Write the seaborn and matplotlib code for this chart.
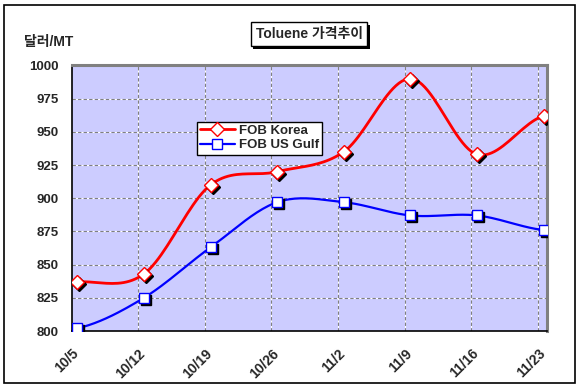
import numpy as np
import pandas as pd
import matplotlib
matplotlib.use("Agg")
import matplotlib.pyplot as plt
import matplotlib.transforms as mtransforms
import matplotlib.patheffects as pe
from matplotlib.lines import Line2D
from matplotlib.patches import Rectangle
import seaborn as sns

# Data
dates = ["10/5", "10/12", "10/19", "10/26", "11/2", "11/9", "11/16", "11/23"]
fob_korea = [837, 843, 910, 920, 935, 990, 933, 962]
fob_usgulf = [802, 825, 863, 897, 897, 887, 887, 876]

sns.set_style("white")
plt.rcParams['font.family'] = ['Liberation Sans', 'Noto Sans CJK KR']
plt.rcParams['font.weight'] = 'bold'

day = (pd.to_datetime(dates, format="%m/%d") - pd.to_datetime(dates[0], format="%m/%d")).days.to_numpy()
shift = 0.6  # markers sit a bit right of the tick in the original


def smooth(x, y, n=24):
    # excel-like smoothed line (cubic hermite / catmull-rom)
    y = np.asarray(y, float)
    ext = np.concatenate([[y[0]], y, [y[-1]]])
    xs, ys = [], []
    for i in range(len(y) - 1):
        m0 = (ext[i + 2] - ext[i]) / 2
        m1 = (ext[i + 3] - ext[i + 1]) / 2
        t = np.linspace(0, 1, n)
        h00 = 2 * t**3 - 3 * t**2 + 1
        h10 = t**3 - 2 * t**2 + t
        h01 = -2 * t**3 + 3 * t**2
        h11 = t**3 - t**2
        xs.append(x[i] + t * (x[i + 1] - x[i]))
        ys.append(h00 * y[i] + h10 * m0 + h01 * y[i + 1] + h11 * m1)
    return np.concatenate(xs), np.concatenate(ys)


fig = plt.figure(figsize=(5.82, 3.88), dpi=100)
ax = fig.add_axes([71.6 / 582, 1 - 331 / 388, (546.6 - 71.6) / 582, (331 - 65.4) / 388])
ax.set_facecolor('#CCCCFF')

xs = day + shift
series = [(fob_korea, 'FOB Korea', '#FF0000', 'D', 7, 2.0),
          (fob_usgulf, 'FOB US Gulf', '#0000FF', 's', 6.5, 1.6)]

shadow = mtransforms.offset_copy(ax.transData, fig=fig, x=2, y=-2, units='dots')
handles = []
for vals, name, col, mk, ms, lw in series:
    sx, sy = smooth(xs, vals)
    sns.lineplot(x=sx, y=sy, ax=ax, color=col, lw=lw, sort=False, zorder=3)
    ax.plot(xs, vals, ls='none', marker=mk, ms=ms, color='black', mec='black', transform=shadow, zorder=4)
    ax.plot(xs, vals, ls='none', marker=mk, ms=ms, mfc='white', mec=col, mew=1.0, zorder=5)
    handles.append(Line2D([], [], color=col, lw=lw, marker=mk, ms=ms, mfc='white', mec=col, mew=1.0))

ax.set_xlim(0, 49.9)
ax.set_ylim(800, 1000)
ax.set_yticks(np.arange(800, 1001, 25))
ax.set_xticks(day)
ax.set_xticklabels(dates, rotation=45, ha='right', rotation_mode='anchor', fontsize=10, fontweight='bold')
ax.tick_params(axis='y', labelsize=9.5, length=0, pad=9)
ax.tick_params(axis='x', length=0, pad=11)
for lab in ax.get_yticklabels():
    lab.set_fontweight('bold')

# gridlines: gray dashes over white
for v in np.arange(825, 1000, 25):
    ax.axhline(v, color='white', lw=0.8, zorder=1)
    ax.axhline(v, color='#808080', lw=0.8, ls=(0, (3, 2)), zorder=1.5)
for d in day[1:]:
    ax.axvline(d, color='white', lw=0.8, zorder=1)
    ax.axvline(d, color='#808080', lw=0.8, ls=(0, (3, 2)), zorder=1.5)

ax.set_xlabel('')
ax.set_ylabel('')
for s in ['left', 'bottom']:
    ax.spines[s].set_color('black')
    ax.spines[s].set_linewidth(1.2)
for s in ['top', 'right']:
    ax.spines[s].set_color('#808080')
    ax.spines[s].set_linewidth(2.2)

leg = fig.legend(handles, [s[1] for s in series], loc='upper left',
                 bbox_to_anchor=(197 / 582, 1 - 121.5 / 388), frameon=True, fancybox=False,
                 edgecolor='black', framealpha=1, fontsize=9.5, handlelength=2.6,
                 borderpad=0.25, labelspacing=0.15, handletextpad=0.3, borderaxespad=0)
leg.get_frame().set_linewidth(1.0)
for t in leg.get_texts():
    t.set_fontweight('bold')

# title box with shadow
title = fig.text(309 / 582, 1 - 34 / 388, 'Toluene 가격추이', ha='center', va='center', fontsize=10,
                 fontweight='bold',
                 bbox=dict(boxstyle='square,pad=0.35', fc='white', ec='black', lw=1))
title.get_bbox_patch().set_path_effects([
    pe.SimplePatchShadow(offset=(2, -2), shadow_rgbFace='black', alpha=1), pe.Normal()])

fig.text(24 / 582, 1 - 42 / 388, '달러/MT', ha='left', va='center', fontsize=10, fontweight='bold')

fig.add_artist(Rectangle((4 / 582, 5 / 388), 571 / 582, 378 / 388, transform=fig.transFigure,
                         fill=False, ec='black', lw=1.2))

fig.savefig('out.png', dpi=100)
